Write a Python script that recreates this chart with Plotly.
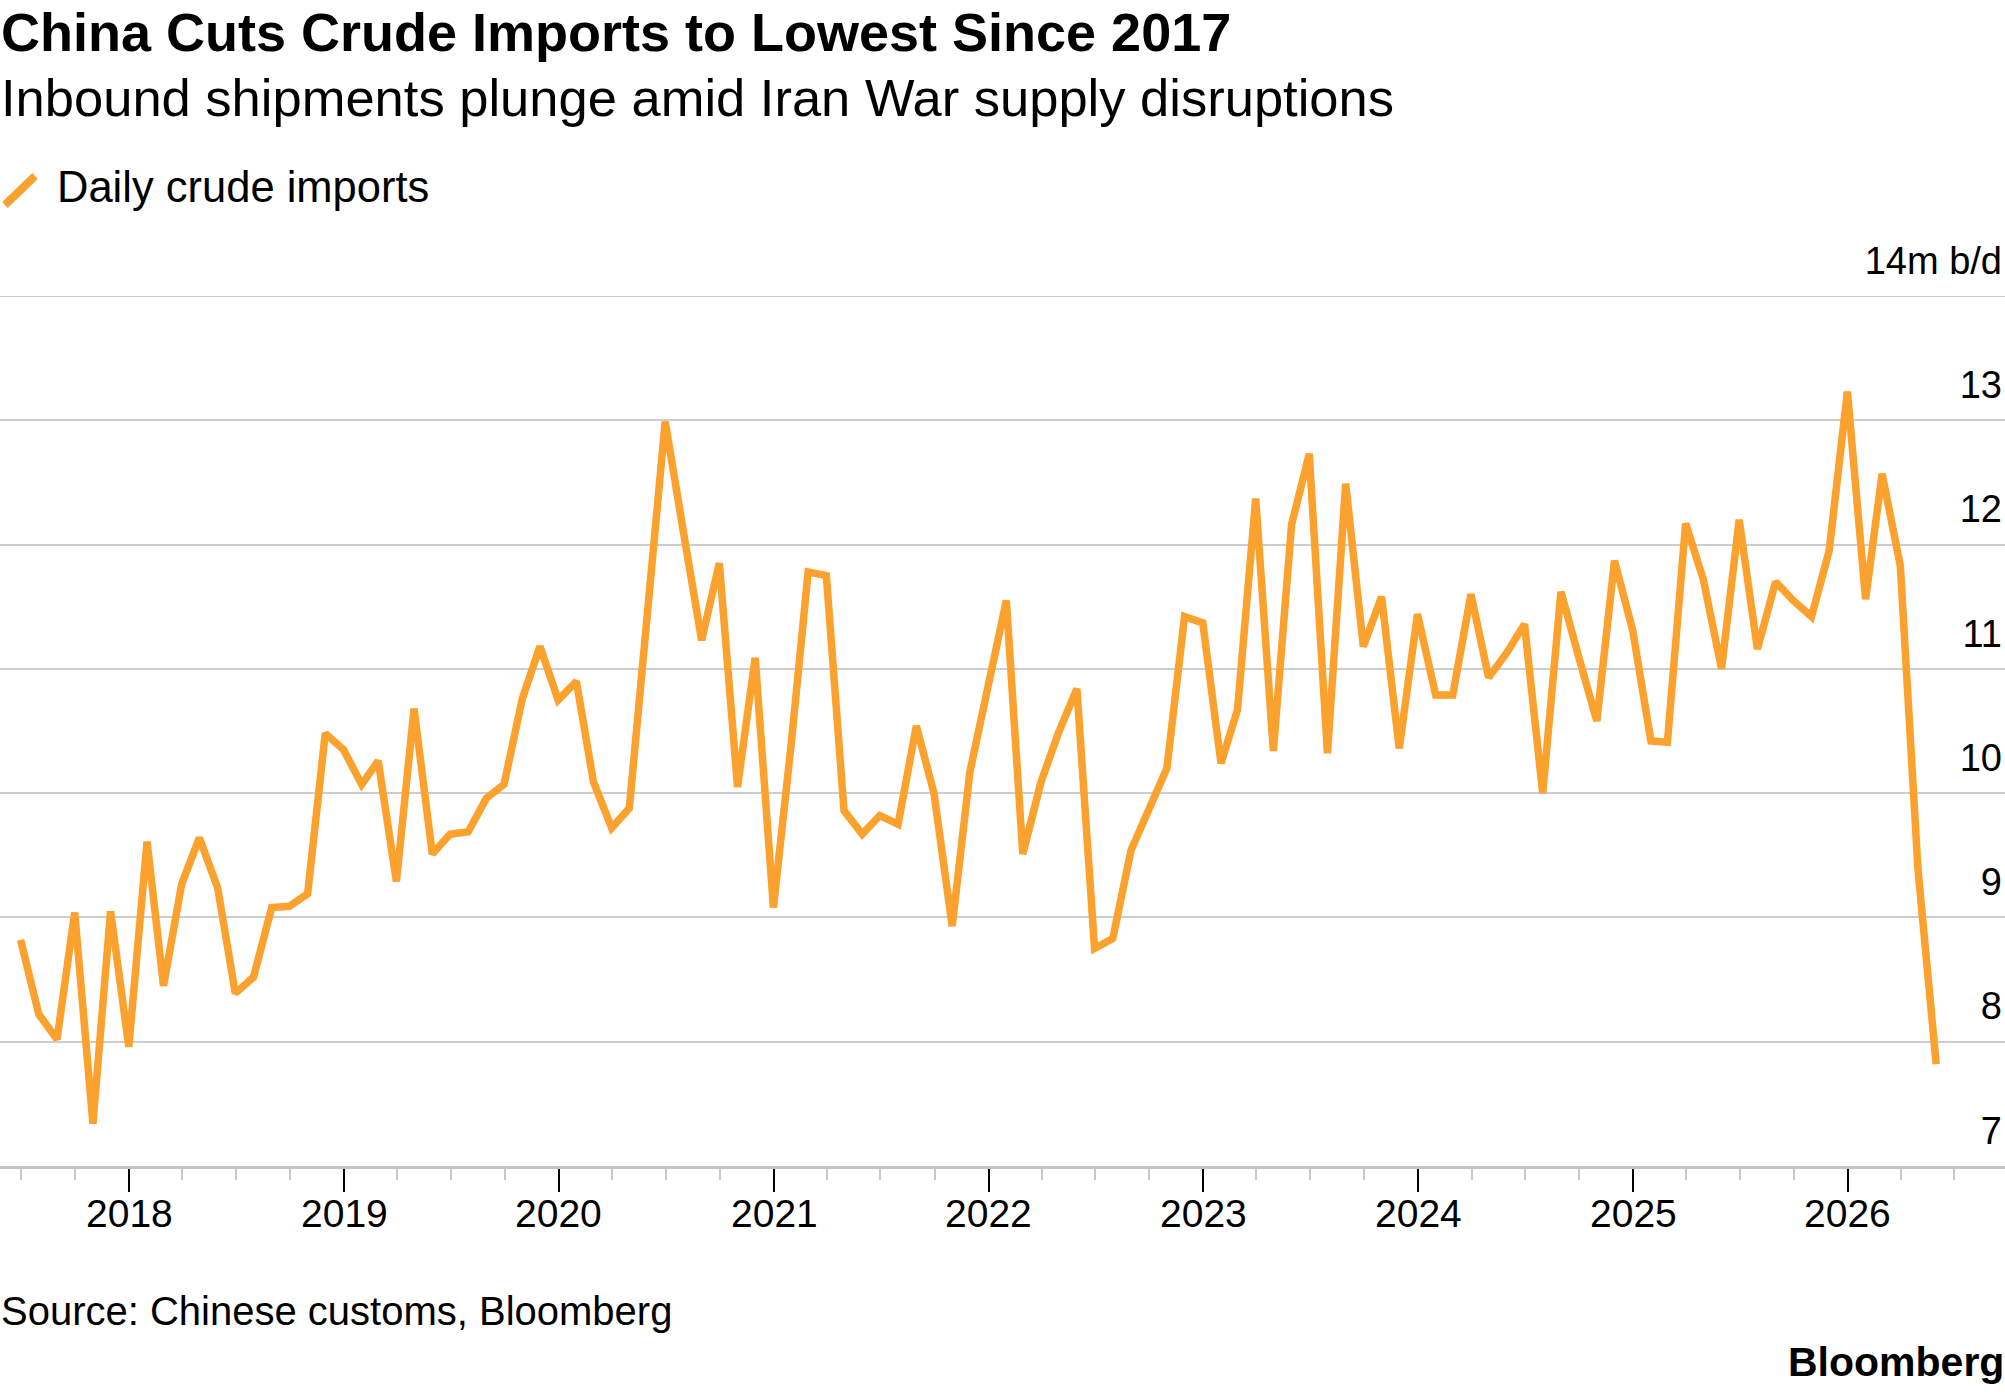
import pandas as pd
import plotly.graph_objects as go

# Monthly daily crude imports (million b/d), June 2017 .. May 2026, plotted at month end
start_month = "2017-06-30"
imports = [
    8.82, 8.22, 8.02, 9.04, 7.34, 9.05, 7.96, 9.61, 8.45, 9.27, 9.64, 9.24,
    8.39, 8.52, 9.08, 9.09, 9.19, 10.48, 10.35, 10.07, 10.26, 9.29, 10.68, 9.51,
    9.67, 9.69, 9.96, 10.07, 10.76, 11.18, 10.75, 10.90, 10.09, 9.72, 9.88, 11.50,
    12.99, 12.10, 11.23, 11.85, 10.05, 11.09, 9.08, 10.43, 11.78, 11.75, 9.86, 9.67,
    9.82, 9.75, 10.54, 10.00, 8.93, 10.17, 10.86, 11.55, 9.51, 10.09, 10.49, 10.84,
    8.75, 8.83, 9.54, 9.86, 10.20, 11.42, 11.37, 10.24, 10.67, 12.37, 10.34, 12.16,
    12.73, 10.32, 12.49, 11.18, 11.58, 10.36, 11.44, 10.79, 10.79, 11.60, 10.93, 11.13,
    11.36, 10.00, 11.62, 11.10, 10.58, 11.87, 11.31, 10.42, 10.41, 12.17, 11.72, 11.00,
    12.20, 11.16, 11.70, 11.55, 11.42, 11.95, 13.23, 11.56, 12.57, 11.83, 9.39, 7.82,
]
dates = pd.date_range(start_month, periods=len(imports), freq="ME")

y_ticks = [7, 8, 9, 10, 11, 12, 13, 14]
y_ticktext = ["7", "8", "9", "10", "11", "12", "13", "14m b/d"]
x_tickvals = ["2018-01-01", "2019-01-01", "2020-01-01", "2021-01-01", "2022-01-01",
              "2023-01-01", "2024-01-01", "2025-01-01", "2026-01-01"]
x_ticktext = ["2018", "2019", "2020", "2021", "2022", "2023", "2024", "2025", "2026"]

TITLE = "China Cuts Crude Imports to Lowest Since 2017"
SUBTITLE = "Inbound shipments plunge amid Iran War supply disruptions"
LEGEND = "Daily crude imports"
SOURCE = "Source: Chinese customs, Bloomberg"
BRAND = "Bloomberg"

ORANGE = "#FBA12E"
FONT = "Liberation Sans, Arial, Helvetica, sans-serif"

W, H = 2005, 1392
TOP, BOTTOM = 296, 1166


def py(y):
    return (BOTTOM - y) / (BOTTOM - TOP)


def px(x):
    return x / W


fig = go.Figure()
fig.add_trace(go.Scatter(
    x=dates, y=imports, mode="lines",
    line=dict(color=ORANGE, width=7.5, shape="linear"),
    name=LEGEND, showlegend=False, hoverinfo="skip",
))

fig.update_layout(
    width=W, height=H,
    margin=dict(l=0, r=0, t=TOP, b=H - BOTTOM, pad=0),
    paper_bgcolor="white", plot_bgcolor="white",
    font=dict(family=FONT, color="#000000"),
    xaxis=dict(
        type="date",
        range=["2017-05-26", "2026-09-25"],
        tickvals=x_tickvals, ticktext=x_ticktext,
        ticks="outside", ticklen=23, tickwidth=2, tickcolor="#000000",
        showticklabels=False,
        showgrid=False, zeroline=False,
        showline=True, linecolor="#C4C4C4", linewidth=3,
        minor=dict(dtick="M3", tick0="2018-01-01", ticks="outside", ticklen=11,
                   tickwidth=2, tickcolor="#C8C8C8", showgrid=False),
        fixedrange=True,
    ),
    yaxis=dict(
        range=[7, 14], side="right",
        tickvals=y_ticks, ticktext=y_ticktext,
        ticks="", ticklabelposition="inside top", ticklabeloverflow="allow",
        ticklabelshift=-9,
        tickfont=dict(size=38, family=FONT, color="#000000"),
        showgrid=True, gridcolor="#CDCDCD", gridwidth=2,
        zeroline=False, showline=False,
        fixedrange=True,
    ),
)

annotations = [
    dict(text=f"<b>{TITLE}</b>", x=px(0), y=py(32), font=dict(size=54, family=FONT, color="#000")),
    dict(text=SUBTITLE, x=px(0), y=py(97), font=dict(size=52.5, family=FONT, color="#000")),
    dict(text=LEGEND, x=px(56), y=py(187), font=dict(size=43.5, family=FONT, color="#000")),
    dict(text=SOURCE, x=px(0), y=py(1311), font=dict(size=40, family=FONT, color="#000")),
]
for a in annotations:
    a.update(xref="paper", yref="paper", xanchor="left", yanchor="middle",
             showarrow=False, borderpad=0)
annotations.append(dict(text=f"<b>{BRAND}</b>", x=1, y=py(1362), xref="paper", yref="paper",
                        xanchor="right", yanchor="middle", showarrow=False, borderpad=0,
                        font=dict(size=41, family=FONT, color="#000")))
# year labels placed on the date axis
for tv, tt in zip(x_tickvals, x_ticktext):
    annotations.append(dict(text=tt, x=tv, xref="x", y=py(1213), yref="paper",
                            xanchor="center", yanchor="middle", showarrow=False, borderpad=0,
                            font=dict(size=39, family=FONT, color="#000")))
fig.update_layout(annotations=annotations)

# top grid line at 14 (edge of plot area)
fig.add_shape(type="line", xref="paper", yref="y", x0=0, x1=1, y0=14, y1=14,
              line=dict(color="#CDCDCD", width=2), layer="below")

fig.add_shape(type="line", xref="paper", yref="paper",
              x0=px(5), y0=py(205), x1=px(35), y1=py(176),
              line=dict(color=ORANGE, width=8))

fig.write_html("out.html", config={"displayModeBar": False})
